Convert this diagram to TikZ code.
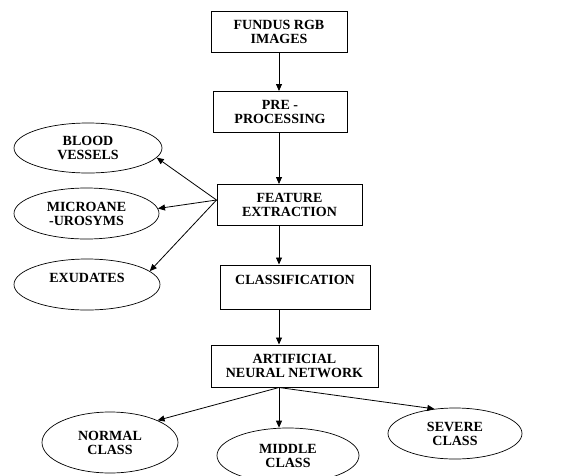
\documentclass[tikz,border=0pt]{standalone}
\usepackage{fontspec}
\setmainfont{Liberation Serif}
\usetikzlibrary{shapes.geometric,arrows.meta,calc}
\tikzset{
    flow box/.style={
        draw,line width=1pt,
        minimum height=41pt,inner sep=2pt,
        align=center,font=\fontsize{14}{14}\selectfont\bfseries
    },
    class ellipse/.style={
        draw,ellipse,line width=0.7pt,inner sep=0pt,
        align=center,font=\fontsize{14}{14}\selectfont\bfseries
    },
    >={Triangle[length=7pt,width=6pt]}
}

\begin{document}
\begin{tikzpicture}[x=1pt,y=-1pt,line width=0.8pt]
\clip (0,0) rectangle (582,475);
\node[flow box,minimum width=136pt] (fundus) at (279,31.5) {FUNDUS RGB\\IMAGES};
\node[flow box,minimum width=134pt] (pre_proc) at (280,112) {PRE -\\PROCESSING};
\node[flow box,minimum width=145pt] (feature) at (289.5,205) {FEATURE\\EXTRACTION};
\node[flow box,minimum width=150pt,minimum height=44pt] (classif) at (295,287) {CLASSIFICATION\\\mbox{}};
\node[flow box,minimum width=167pt,minimum height=42pt] (ann) at (294.5,366) {ARTIFICIAL\\NEURAL NETWORK};

\node[class ellipse,minimum width=148pt,minimum height=50pt] (blood) at (88,148) {BLOOD\\VESSELS};
\node[class ellipse,minimum width=145pt,minimum height=51pt] (micro) at (86.5,213.5) {MICROANE\\-UROSYMS};
\node[class ellipse,minimum width=146pt,minimum height=51pt] (exud) at (87,284.5) {EXUDATES\\\mbox{}};
\node[class ellipse,minimum width=136pt,minimum height=61pt] (normal) at (110,442.5) {NORMAL\\CLASS};
\node[class ellipse,minimum width=142pt,minimum height=55pt] (middle) at (288,455.5) {MIDDLE\\CLASS};
\node[class ellipse,minimum width=134pt,minimum height=51pt] (severe) at (455,433.5) {SEVERE\\CLASS};

\coordinate (spine) at (fundus.south);
\draw[->] (spine) -- (pre_proc.north -| spine);
\draw[->] (pre_proc.south -| spine) -- (feature.north -| spine);
\draw[->] (feature.south -| spine) -- (classif.north -| spine);
\draw[->] (classif.south -| spine) -- (ann.north -| spine);

\coordinate (feat_out) at ([yshift=5pt]feature.west);
\foreach \n/\a in {blood/-8,micro/4,exud/12}
    \draw[->] (feat_out) -- (\n.\a);

\coordinate (ann_out) at (ann.south -| spine);
\draw[->] (ann_out) -- (normal.25);
\draw[->] (ann_out) -- (ann_out |- middle.north);
\draw[->] (ann_out) -- (severe.130);
\end{tikzpicture}
\end{document}
